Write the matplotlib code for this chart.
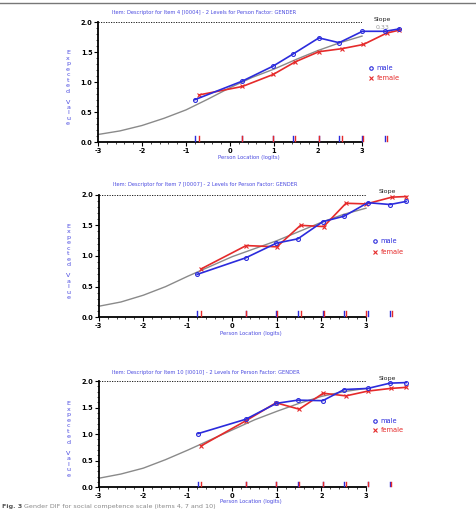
import matplotlib
matplotlib.use('Agg')
import matplotlib.pyplot as plt
from matplotlib.lines import Line2D
from matplotlib.ticker import MultipleLocator

# class-interval locations (logits) and observed means
male_x = [[-0.80, 0.28, 0.98, 1.43, 2.02, 2.48, 3.01, 3.52, 3.85],
          [-0.79, 0.30, 0.99, 1.47, 2.03, 2.51, 3.04, 3.54, 3.90],
          [-0.77, 0.30, 0.99, 1.47, 2.03, 2.51, 3.04, 3.54, 3.90]]
male_y = [[0.71, 1.02, 1.27, 1.47, 1.74, 1.66, 1.85, 1.85, 1.89],
          [0.70, 0.97, 1.21, 1.28, 1.56, 1.65, 1.87, 1.84, 1.89],
          [1.01, 1.28, 1.58, 1.64, 1.63, 1.84, 1.86, 1.96, 1.97]]
female_x = [[-0.70, 0.28, 0.98, 1.48, 2.02, 2.54, 3.03, 3.56, 3.85],
            [-0.70, 0.31, 1.00, 1.53, 2.05, 2.55, 3.01, 3.58, 3.90],
            [-0.70, 0.30, 0.98, 1.50, 2.04, 2.55, 3.04, 3.55, 3.90]]
female_y = [[0.79, 0.93, 1.13, 1.34, 1.51, 1.56, 1.63, 1.82, 1.87],
            [0.79, 1.17, 1.15, 1.50, 1.48, 1.86, 1.85, 1.96, 1.97],
            [0.78, 1.25, 1.59, 1.47, 1.77, 1.72, 1.81, 1.86, 1.88]]

# expected-value curves
icc_x = [-3, -2.5, -2, -1.5, -1, -0.5, 0, 0.5, 1, 1.5, 2, 2.5, 3]
icc_y = [[0.13, 0.19, 0.28, 0.40, 0.54, 0.72, 0.91, 1.08, 1.22, 1.38, 1.53, 1.66, 1.77],
         [0.18, 0.25, 0.36, 0.50, 0.67, 0.83, 0.99, 1.12, 1.25, 1.40, 1.55, 1.68, 1.78],
         [0.17, 0.25, 0.36, 0.52, 0.70, 0.89, 1.08, 1.27, 1.43, 1.58, 1.71, 1.80, 1.86]]

titles = ['Item: Descriptor for Item 4 [I0004] - 2 Levels for Person Factor: GENDER',
          'Item: Descriptor for Item 7 [I0007] - 2 Levels for Person Factor: GENDER',
          'Item: Descriptor for Item 10 [I0010] - 2 Levels for Person Factor: GENDER']
slope_vals = ['0.33', '', '']

BLUE = '#2b2bdc'
RED = '#e52a2a'
LBLUE = '#4a4ae0'

fig = plt.figure(figsize=(4.76, 5.11), dpi=100)
W, H = 476, 511
# axes boxes in pixels: left, top (y=2), right (x=3), bottom (y=0)
boxes = [(98, 22.3, 362, 142.3), (98.7, 194.7, 366, 317.3), (98.7, 381, 366, 487.3)]

for i, (l, t, r, b) in enumerate(boxes):
    ax = fig.add_axes([l / W, 1 - b / H, (r - l) / W, (b - t) / H])
    ax.set_xlim(-3, 3)
    ax.set_ylim(0, 2)
    for s in ['top', 'right']:
        ax.spines[s].set_visible(False)
    for s in ['left', 'bottom']:
        ax.spines[s].set_linewidth(1.3)
    ax.xaxis.set_major_locator(MultipleLocator(1))
    ax.xaxis.set_minor_locator(MultipleLocator(0.2))
    ax.yaxis.set_major_locator(MultipleLocator(0.5))
    ax.yaxis.set_minor_locator(MultipleLocator(0.1))
    ax.tick_params(which='major', length=3, width=0.8, labelsize=4.8, pad=1)
    ax.tick_params(which='minor', length=1.5, width=0.5)
    ax.set_yticklabels(['%.1f' % v for v in ax.get_yticks()], fontweight='bold')
    ax.set_xticklabels(['%d' % v for v in ax.get_xticks()], fontweight='bold')

    ax.plot([-3, 3], [2, 2], color='k', lw=0.6, ls=(0, (1.5, 1.5)))
    ax.plot(icc_x, icc_y[i], color='#8a8a8a', lw=1.0, clip_on=False)
    ax.plot(female_x[i], female_y[i], color=RED, lw=1.2, marker='x', ms=2.5, mew=0.8,
            clip_on=False, zorder=4)
    ax.plot(male_x[i], male_y[i], color=BLUE, lw=1.2, marker='o', ms=2.8, mfc='none',
            mew=0.8, clip_on=False, zorder=5)

    # rug of class-interval locations
    for xv in male_x[i][:-1]:
        ax.plot([xv, xv], [0.02, 0.10], color=BLUE, lw=1.0, clip_on=False, zorder=6)
    for xv in female_x[i][:-1]:
        ax.plot([xv, xv], [0.02, 0.10], color=RED, lw=1.0, clip_on=False, zorder=6)

    # legend
    ax.plot([3.2], [1.24], marker='o', ms=2.5, mfc='none', mec=BLUE, mew=0.8, clip_on=False)
    ax.text(3.33, 1.24, 'male', color=BLUE, fontsize=4.8, va='center')
    ax.plot([3.2], [1.07], marker='x', ms=2.3, mec=RED, mew=0.8, clip_on=False)
    ax.text(3.33, 1.07, 'female', color=RED, fontsize=4.8, va='center')

    ax.text(3.47, 2.05, 'Slope', fontsize=4.5, ha='center', va='center', color='#222222')
    if slope_vals[i]:
        ax.text(3.47, 1.92, slope_vals[i], fontsize=4.5, ha='center', va='center', color='#9a9a9a')

    ax.text(-0.6, 2.12, titles[i], fontsize=3.7, color=LBLUE, ha='center', va='bottom')
    ax.text(0.42, -0.22, 'Person Location (logits)', fontsize=3.8, color=LBLUE,
            ha='center', va='top')
    yl = 'Expected Value'
    ax.text(-3.68, 0.9, '\n'.join(list(yl)), fontsize=4.6, color=LBLUE, ha='center',
            va='center', linespacing=1.12)

# top rule and caption
fig.add_artist(Line2D([0, 1], [1 - 3.5 / H, 1 - 3.5 / H], color='#777777', lw=1.0))
fig.text(0.004, 0.005, 'Fig. 3', fontsize=4.6, fontweight='bold', color='#555555')
fig.text(0.05, 0.005, 'Gender DIF for social competence scale (items 4, 7 and 10)',
         fontsize=4.6, color='#888888')

fig.savefig('out.png', dpi=100)
